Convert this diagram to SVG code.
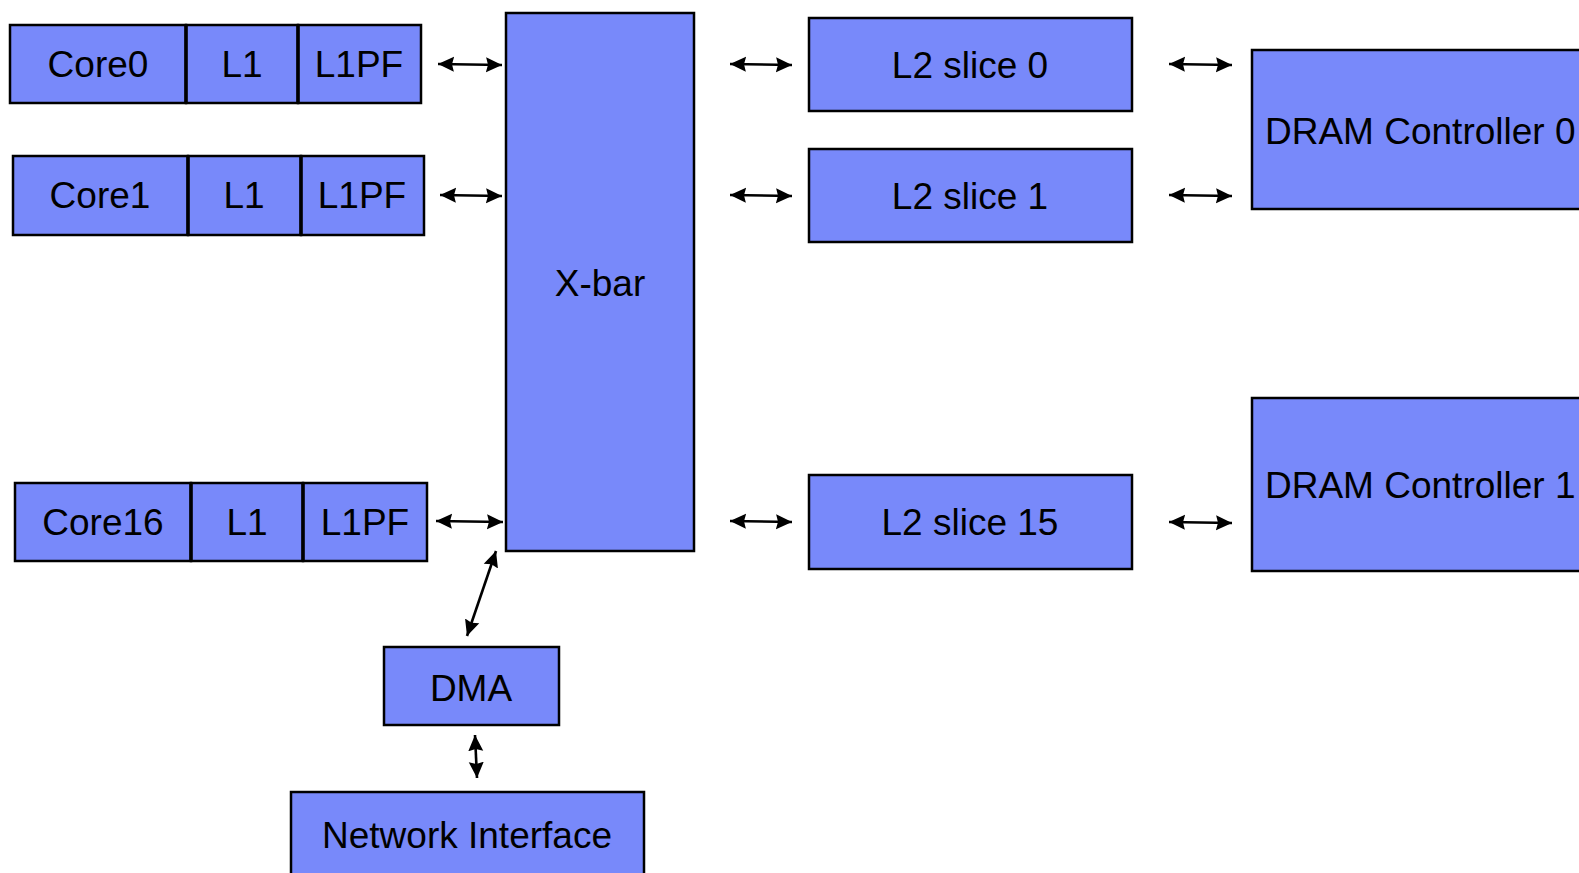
<svg xmlns="http://www.w3.org/2000/svg" width="1579" height="873" viewBox="0 0 1579 873">
<style>
.box{fill:#7889FA;stroke:#000;stroke-width:2.5}
.div{stroke:#000;stroke-width:3.5}
.t{font-family:"Liberation Sans",Arial,sans-serif;font-size:37px;fill:#000;text-anchor:middle}
.c{fill:none;stroke:#000;stroke-width:2.6}
</style>
<defs>
<marker id="ah" markerUnits="userSpaceOnUse" markerWidth="18" markerHeight="18" refX="16" refY="9" orient="auto-start-reverse" viewBox="0 0 18 18">
<path d="M0,1.5 L16,9 L0,16.5 L2,9 z" fill="#000"/>
</marker>
</defs>
<rect width="1579" height="873" fill="#fff"/>
<g id="core0">
<rect class="box" x="10" y="25" width="176" height="78"/>
<rect class="box" x="186" y="25" width="112" height="78"/>
<rect class="box" x="298" y="25" width="123" height="78"/>
<line class="div" x1="186" y1="25" x2="186" y2="103"/>
<line class="div" x1="298" y1="25" x2="298" y2="103"/>
<text class="t" x="98" y="77">Core0</text>
<text class="t" x="242" y="77">L1</text>
<text class="t" x="359" y="77">L1PF</text>
</g>
<g id="core1">
<rect class="box" x="13" y="156" width="175" height="79"/>
<rect class="box" x="188" y="156" width="113" height="79"/>
<rect class="box" x="301" y="156" width="123" height="79"/>
<line class="div" x1="188" y1="156" x2="188" y2="235"/>
<line class="div" x1="301" y1="156" x2="301" y2="235"/>
<text class="t" x="100" y="208">Core1</text>
<text class="t" x="244" y="208">L1</text>
<text class="t" x="362" y="208">L1PF</text>
</g>
<g id="core16">
<rect class="box" x="15" y="483" width="176" height="78"/>
<rect class="box" x="191" y="483" width="112" height="78"/>
<rect class="box" x="303" y="483" width="124" height="78"/>
<line class="div" x1="191" y1="483" x2="191" y2="561"/>
<line class="div" x1="303" y1="483" x2="303" y2="561"/>
<text class="t" x="103" y="535">Core16</text>
<text class="t" x="247" y="535">L1</text>
<text class="t" x="365" y="535">L1PF</text>
</g>
<g id="xbar">
<rect class="box" x="506" y="13" width="188" height="538"/>
<text class="t" x="600" y="296">X-bar</text>
</g>
<g id="l2s0">
<rect class="box" x="809" y="18" width="323" height="93"/>
<text class="t" x="970" y="78">L2 slice 0</text>
</g>
<g id="l2s1">
<rect class="box" x="809" y="149" width="323" height="93"/>
<text class="t" x="970" y="209">L2 slice 1</text>
</g>
<g id="l2s15">
<rect class="box" x="809" y="475" width="323" height="94"/>
<text class="t" x="970" y="535">L2 slice 15</text>
</g>
<g id="dram0">
<rect class="box" x="1252" y="50" width="340" height="159"/>
<text class="t" x="1265" y="144" style="text-anchor:start">DRAM Controller 0</text>
</g>
<g id="dram1">
<rect class="box" x="1252" y="398" width="340" height="173"/>
<text class="t" x="1265" y="498" style="text-anchor:start">DRAM Controller 1</text>
</g>
<g id="dma">
<rect class="box" x="384" y="647" width="175" height="78"/>
<text class="t" x="471" y="701">DMA</text>
</g>
<g id="ni">
<rect class="box" x="291" y="792" width="353" height="95"/>
<text class="t" x="467" y="848">Network Interface</text>
</g>
<g id="connectors">
<line class="c" x1="438" y1="64" x2="502" y2="65" marker-start="url(#ah)" marker-end="url(#ah)"/>
<line class="c" x1="440" y1="195" x2="502" y2="196" marker-start="url(#ah)" marker-end="url(#ah)"/>
<line class="c" x1="436" y1="521" x2="503" y2="522" marker-start="url(#ah)" marker-end="url(#ah)"/>
<line class="c" x1="730" y1="64" x2="792" y2="65" marker-start="url(#ah)" marker-end="url(#ah)"/>
<line class="c" x1="730" y1="195" x2="792" y2="196" marker-start="url(#ah)" marker-end="url(#ah)"/>
<line class="c" x1="730" y1="521" x2="792" y2="522" marker-start="url(#ah)" marker-end="url(#ah)"/>
<line class="c" x1="1169" y1="64" x2="1232" y2="65" marker-start="url(#ah)" marker-end="url(#ah)"/>
<line class="c" x1="1169" y1="195" x2="1232" y2="196" marker-start="url(#ah)" marker-end="url(#ah)"/>
<line class="c" x1="1169" y1="522" x2="1232" y2="523" marker-start="url(#ah)" marker-end="url(#ah)"/>
<line class="c" x1="496" y1="551" x2="467" y2="636" marker-start="url(#ah)" marker-end="url(#ah)"/>
<line class="c" x1="475" y1="735" x2="477" y2="778" marker-start="url(#ah)" marker-end="url(#ah)"/>
</g>
</svg>
